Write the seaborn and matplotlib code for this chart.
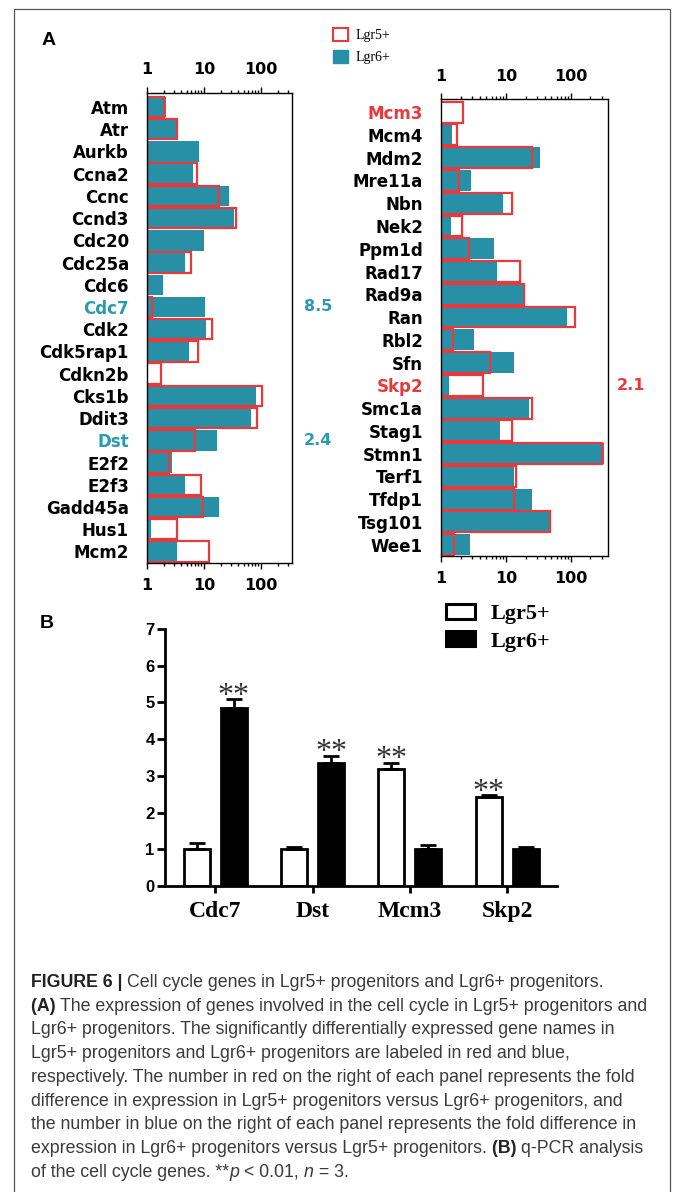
import matplotlib
matplotlib.use("Agg")
import matplotlib.pyplot as plt
import matplotlib.ticker as mticker
from matplotlib.patches import Patch, Rectangle
import numpy as np
import pandas as pd
import seaborn as sns

# ---------------- data ----------------
# Panel A: relative expression (log scale) of cell-cycle genes
genes_left = ["Atm", "Atr", "Aurkb", "Ccna2", "Ccnc", "Ccnd3", "Cdc20", "Cdc25a",
              "Cdc6", "Cdc7", "Cdk2", "Cdk5rap1", "Cdkn2b", "Cks1b", "Ddit3", "Dst",
              "E2f2", "E2f3", "Gadd45a", "Hus1", "Mcm2"]
lgr5_left = [2.0, 3.4, 1.0, 7.4, 18.5, 36.0, 1.0, 6.0, 1.0, 1.24, 13.6, 8.0,
             1.75, 104.0, 86.0, 7.0, 2.4, 9.0, 9.6, 3.4, 12.2]
lgr6_left = [2.15, 3.3, 8.3, 6.3, 27.7, 34.0, 9.9, 4.6, 1.9, 10.5, 10.7, 5.5,
             1.0, 83.0, 68.0, 16.9, 2.77, 4.6, 18.0, 1.19, 3.4]

genes_right = ["Mcm3", "Mcm4", "Mdm2", "Mre11a", "Nbn", "Nek2", "Ppm1d", "Rad17",
               "Rad9a", "Ran", "Rbl2", "Sfn", "Skp2", "Smc1a", "Stag1", "Stmn1",
               "Terf1", "Tfdp1", "Tsg101", "Wee1"]
lgr5_right = [2.2, 1.75, 25.0, 1.92, 12.5, 2.08, 2.67, 16.3, 18.8, 117.0, 1.51,
              5.7, 4.5, 25.0, 12.3, 301.0, 14.3, 13.1, 47.0, 1.6]
lgr6_right = [1.0, 1.5, 33.6, 2.9, 8.9, 1.41, 6.6, 7.2, 18.0, 87.0, 3.2,
              13.5, 1.33, 22.8, 8.1, 319.0, 13.4, 25.6, 46.0, 2.8]

up_lgr5 = ["Mcm3", "Skp2"]          # higher in Lgr5+ (red labels)
up_lgr6 = ["Cdc7", "Dst"]           # higher in Lgr6+ (blue labels)
fold_left = {"Cdc7": "8.5", "Dst": "2.4"}
fold_right = {"Skp2": "2.1"}

# Panel B: q-PCR
genes_b = ["Cdc7", "Dst", "Mcm3", "Skp2"]
qpcr_lgr5 = [1.0, 1.0, 3.2, 2.42]
qpcr_lgr5_sem = [0.17, 0.07, 0.16, 0.06]
qpcr_lgr6 = [4.86, 3.35, 1.02, 1.02]
qpcr_lgr6_sem = [0.23, 0.20, 0.10, 0.03]
sig_group = ["Lgr6+", "Lgr6+", "Lgr5+", "Lgr5+"]

# ---------------- style ----------------
W, H = 674, 1192
TEAL = "#2790a7"
TEAL_TXT = "#2b99b1"
RED = "#e8393d"

sns.set_style("white")
plt.rcParams["font.family"] = ["DejaVu Sans"]
plt.rcParams.update({"text.color": "black", "axes.labelcolor": "black",
                     "xtick.color": "black", "ytick.color": "black",
                     "axes.edgecolor": "black"})

fig = plt.figure(figsize=(W / 100, H / 100), dpi=100)


def px_axes(x0, y0, x1, y1):
    return fig.add_axes([x0 / W, 1 - y1 / H, (x1 - x0) / W, (y1 - y0) / H])


def expression_panel(ax, genes, lgr5, lgr6, xmax, ylim, folds, fold_x):
    sns.barplot(x=lgr6, y=genes, orient="h", color=TEAL, saturation=1,
                width=0.92, linewidth=0, ax=ax)
    sns.barplot(x=lgr5, y=genes, orient="h", color=RED, fill=False, saturation=1,
                width=0.92, linewidth=1.6, ax=ax)
    ax.set_xscale("log")
    ax.set_xlim(1, xmax)
    ax.set_ylim(*ylim)
    ax.xaxis.set_major_locator(mticker.FixedLocator([1, 10, 100]))
    ax.xaxis.set_major_formatter(mticker.FuncFormatter(lambda v, p: f"{v:g}"))
    ax.xaxis.set_minor_locator(mticker.LogLocator(base=10, subs=np.arange(2, 10)))
    ax.xaxis.set_minor_formatter(mticker.NullFormatter())
    ax.tick_params(axis="x", which="both", top=True, bottom=True, labeltop=True,
                   labelbottom=True, direction="out", color="black", width=1.0,
                   labelcolor="black")
    ax.tick_params(axis="x", which="major", length=4.5, pad=6.5, labelsize=11.5)
    ax.tick_params(axis="x", which="minor", length=2.5)
    ax.tick_params(axis="y", length=0, pad=13, labelsize=12, labelcolor="black")
    for lab in ax.get_xticklabels() + ax.get_yticklabels():
        lab.set_fontweight("bold")
    for lab in ax.get_yticklabels():
        if lab.get_text() in up_lgr5:
            lab.set_color(RED)
        elif lab.get_text() in up_lgr6:
            lab.set_color(TEAL_TXT)
    for s in ax.spines.values():
        s.set_visible(True)
        s.set_color("black")
        s.set_linewidth(1.0)
    ax.set_xlabel("")
    ax.set_ylabel("")
    trans = ax.get_yaxis_transform()
    for g, txt in folds.items():
        col = RED if g in up_lgr5 else TEAL_TXT
        ax.text(fold_x, genes.index(g), txt, transform=trans, ha="center",
                va="center", fontsize=11.5, fontweight="bold", color=col)


axL = px_axes(147, 92.7, 292, 563)
expression_panel(axL, genes_left, lgr5_left, lgr6_left, 350, (20.52, -0.64),
                 fold_left, 1.18)
axR = px_axes(441, 99, 608, 556)
expression_panel(axR, genes_right, lgr5_right, lgr6_right, 372, (19.5, -0.58),
                 fold_right, 1.138)

fig.legend(handles=[Patch(facecolor="white", edgecolor=RED, linewidth=1.5),
                    Patch(facecolor=TEAL, edgecolor=TEAL)],
           labels=["Lgr5+", "Lgr6+"], loc="upper left",
           bbox_to_anchor=(333 / W, 1 - 28 / H), frameon=False,
           prop={"family": "Liberation Serif", "size": 10},
           handlelength=1.1, handleheight=1.1, labelspacing=0.55,
           handletextpad=0.55, borderpad=0, borderaxespad=0)

fig.text(42 / W, 1 - 45 / H, "A", fontsize=14, fontweight="bold",
         family="Liberation Sans", ha="left", va="baseline")

# ---------------- panel B ----------------
axB = px_axes(165, 629, 557, 886)
dfb = pd.DataFrame({
    "gene": genes_b * 2,
    "group": ["Lgr5+"] * 4 + ["Lgr6+"] * 4,
    "value": qpcr_lgr5 + qpcr_lgr6,
    "sem": qpcr_lgr5_sem + qpcr_lgr6_sem,
})
sns.barplot(data=dfb, x="gene", y="value", hue="group",
            palette={"Lgr5+": "white", "Lgr6+": "black"}, saturation=1,
            edgecolor="black", linewidth=2.0, width=0.76, gap=0.3,
            legend=False, ax=axB)
for cont, grp in zip(axB.containers, ["Lgr5+", "Lgr6+"]):
    sub = dfb[dfb["group"] == grp]
    xs = [b.get_x() + b.get_width() / 2 for b in cont]
    axB.errorbar(xs, sub["value"], yerr=[np.zeros(len(sub)), sub["sem"]],
                 fmt="none", ecolor="black", elinewidth=2.0, capsize=5.5,
                 capthick=2.0, zorder=1)
    for x, v, e, g in zip(xs, sub["value"], sub["sem"], genes_b):
        if sig_group[genes_b.index(g)] == grp:
            axB.text(x, v + e - 0.13, "**", ha="center", va="baseline",
                     family="Liberation Serif", fontsize=23, color="#333333")

axB.set_xlim(-0.515, 3.51)
axB.set_ylim(0, 7)
axB.set_yticks(range(0, 8))
axB.set_xlabel("")
axB.set_ylabel("")
sns.despine(ax=axB)
for s in ["left", "bottom"]:
    axB.spines[s].set_linewidth(2.0)
    axB.spines[s].set_color("black")
axB.tick_params(axis="y", direction="out", length=6, width=2, pad=1.5,
                labelsize=12, left=True, color="black", labelcolor="black")
axB.tick_params(axis="x", direction="out", length=5, width=2, pad=6,
                labelsize=17, bottom=True, color="black", labelcolor="black")
for lab in axB.get_yticklabels():
    lab.set_fontweight("bold")
    lab.set_family("Liberation Sans")
for lab in axB.get_xticklabels():
    lab.set_fontweight("bold")
    lab.set_family("Liberation Serif")

fig.legend(handles=[Patch(facecolor="white", edgecolor="black", linewidth=2.2),
                    Patch(facecolor="black", edgecolor="black", linewidth=2.2)],
           labels=["Lgr5+", "Lgr6+"], loc="upper left",
           bbox_to_anchor=(446 / W, 1 - 604 / H), frameon=False,
           prop={"family": "Liberation Serif", "weight": "bold", "size": 16},
           handlelength=1.3, handleheight=0.68, labelspacing=0.3,
           handletextpad=0.7, borderpad=0, borderaxespad=0)

fig.text(40 / W, 1 - 628 / H, "B", fontsize=14, fontweight="bold",
         family="Liberation Sans", ha="left", va="baseline")

# ---------------- caption ----------------
CAP = "#3a3a3a"
caption_lines = [
    [("FIGURE 6 | ", "bold", "normal"),
     ("Cell cycle genes in Lgr5+ progenitors and Lgr6+ progenitors.", "normal", "normal")],
    [("(A) ", "bold", "normal"),
     ("The expression of genes involved in the cell cycle in Lgr5+ progenitors and", "normal", "normal")],
    [("Lgr6+ progenitors. The significantly differentially expressed gene names in", "normal", "normal")],
    [("Lgr5+ progenitors and Lgr6+ progenitors are labeled in red and blue,", "normal", "normal")],
    [("respectively. The number in red on the right of each panel represents the fold", "normal", "normal")],
    [("difference in expression in Lgr5+ progenitors versus Lgr6+ progenitors, and", "normal", "normal")],
    [("the number in blue on the right of each panel represents the fold difference in", "normal", "normal")],
    [("expression in Lgr6+ progenitors versus Lgr5+ progenitors. ", "normal", "normal"),
     ("(B) ", "bold", "normal"), ("q-PCR analysis", "normal", "normal")],
    [("of the cell cycle genes. **", "normal", "normal"), ("p", "normal", "italic"),
     (" < 0.01, ", "normal", "normal"), ("n", "normal", "italic"),
     (" = 3.", "normal", "normal")],
]

renderer = fig.canvas.get_renderer()


def text_width(txt, **kw):
    t = fig.text(0, 0, txt + "|", **kw)
    w1 = t.get_window_extent(renderer).width
    t.remove()
    t = fig.text(0, 0, "|", **kw)
    w2 = t.get_window_extent(renderer).width
    t.remove()
    return w1 - w2


CAP_SIZE = 12.8
for i, runs in enumerate(caption_lines):
    x = 31.0
    y = 987 + 23.7 * i
    for txt, weight, style in runs:
        kw = dict(fontsize=CAP_SIZE, fontweight=weight, fontstyle=style,
                  family="Liberation Sans",
                  color="#222222" if weight == "bold" else CAP)
        fig.text(x / W, 1 - y / H, txt, ha="left", va="baseline", **kw)
        x += text_width(txt, **kw)

# outer frame
fig.patches.append(Rectangle((14 / W, -0.01), (670 - 14) / W, 1 - 9 / H + 0.01,
                             transform=fig.transFigure, fill=False,
                             edgecolor="#555555", linewidth=0.9))

fig.savefig("out.png", dpi=100)
